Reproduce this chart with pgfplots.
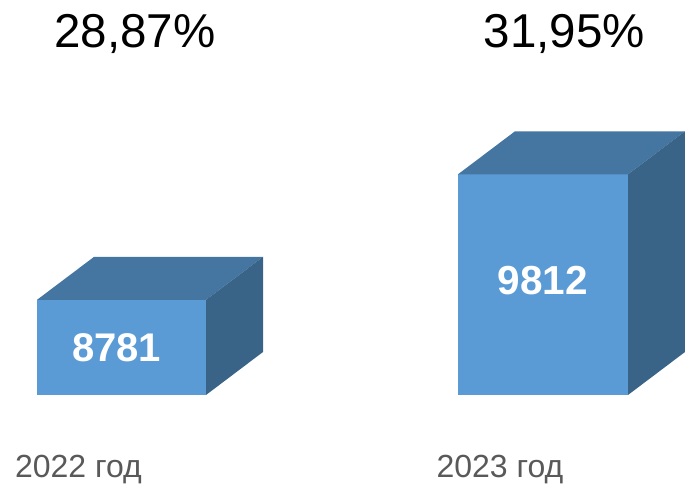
\documentclass[border=0pt]{standalone}
\usepackage{pgfplots}
\pgfplotsset{compat=1.18}
\usepackage{fontspec}
\setmainfont{Liberation Sans}
\definecolor{front}{HTML}{5B9BD5}
\definecolor{topc}{HTML}{4576A2}
\definecolor{side}{HTML}{3A6487}
\definecolor{catc}{HTML}{595959}
\begin{document}
\begin{tikzpicture}
\begin{axis}[
  at={(0,0)}, anchor=south west,
  scale only axis, width=685bp, height=485bp,
  xmin=0, xmax=685, ymin=7261, ymax=11243,
  hide axis, clip=false,
]
% bar 2022: value 8781 (axis base 8000, depth dx=57, dy=353)
\addplot[fill=front, draw=none] coordinates {(37,8000) (206,8000) (206,8781) (37,8781)} -- cycle;
\addplot[fill=topc, draw=none] coordinates {(37,8781) (206,8781) (263,9134) (94,9134)} -- cycle;
\addplot[fill=side, draw=none] coordinates {(206,8000) (263,8353) (263,9134) (206,8781)} -- cycle;
% bar 2023: value 9812
\addplot[fill=front, draw=none] coordinates {(458,8000) (628,8000) (628,9812) (458,9812)} -- cycle;
\addplot[fill=topc, draw=none] coordinates {(458,9812) (628,9812) (685,10165) (515,10165)} -- cycle;
\addplot[fill=side, draw=none] coordinates {(628,8000) (685,8353) (685,10165) (628,9812)} -- cycle;
% value labels
\node[text=white, font=\fontsize{40bp}{43bp}\selectfont\bfseries] at (axis cs:116.5,8390) {8781};
\node[text=white, font=\fontsize{40.5bp}{43bp}\selectfont\bfseries] at (axis cs:543,8940) {9812};
% percentages
\node[anchor=base, font=\fontsize{47.5bp}{50bp}\selectfont] at (axis cs:135,10857) {28,87\%};
\node[anchor=base, font=\fontsize{47.5bp}{50bp}\selectfont] at (axis cs:564.5,10857) {31,95\%};
% categories
\node[anchor=base, text=catc, font=\fontsize{32bp}{34bp}\selectfont] at (axis cs:78.5,7319) {2022 год};
\node[anchor=base, text=catc, font=\fontsize{32bp}{34bp}\selectfont] at (axis cs:500,7319) {2023 год};
\end{axis}
\pgfresetboundingbox
\path (0,0) rectangle (685bp,485bp);
\end{tikzpicture}
\end{document}
